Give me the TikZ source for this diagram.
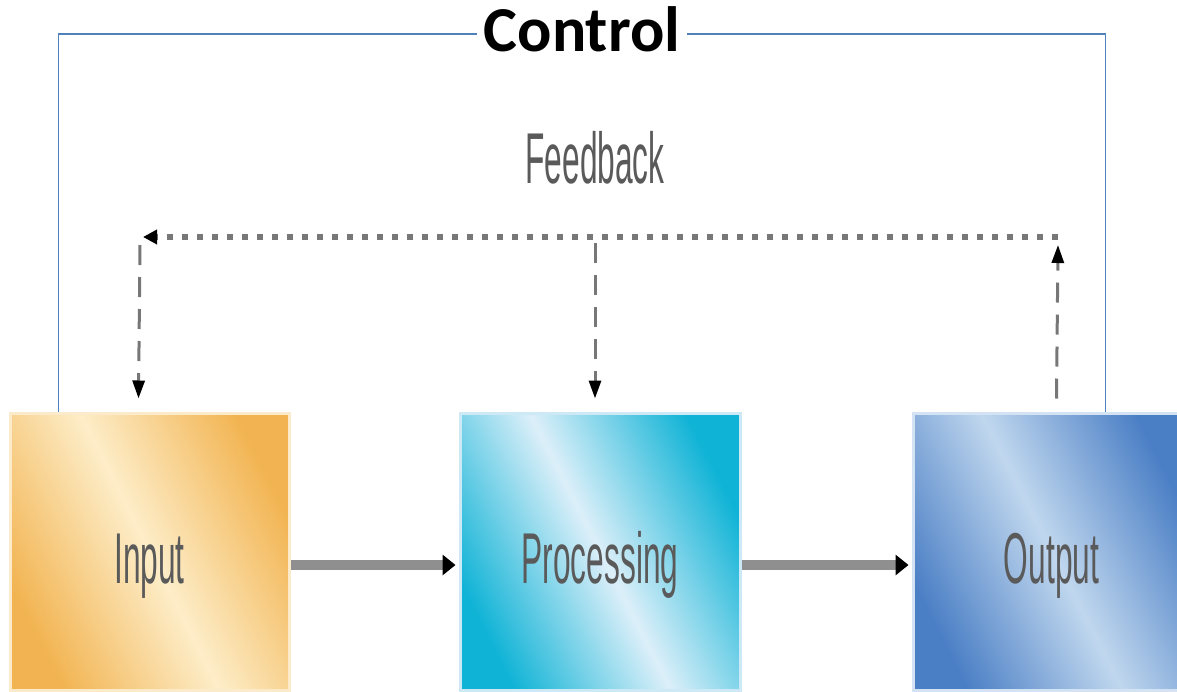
\documentclass[tikz,border=0pt]{standalone}
\usepackage{fontspec}
\usepackage{graphicx}
\setmainfont{Liberation Sans}
\newfontfamily\ctrlfont{Carlito}
\usetikzlibrary{arrows.meta}

\definecolor{inDark}{HTML}{F2B452}
\definecolor{inLight}{HTML}{FDEDC8}
\definecolor{inEdge}{HTML}{FCEBCB}
\definecolor{prDark}{HTML}{0FB3D6}
\definecolor{prLight}{HTML}{DCEFF9}
\definecolor{prEdge}{HTML}{CDE9F6}
\definecolor{ouDark}{HTML}{4A7EC5}
\definecolor{ouLight}{HTML}{C0D7EE}
\definecolor{ouEdge}{HTML}{D3E3F3}
\definecolor{ctrlBlue}{HTML}{4F81BD}
\definecolor{labelGray}{HTML}{5A5A5A}
\definecolor{flowGray}{HTML}{8F8F8F}
\definecolor{fbGray}{HTML}{777777}

\pgfdeclarehorizontalshading{inshade}{100bp}{color(0bp)=(inDark); color(25bp)=(inDark); color(50bp)=(inLight); color(75bp)=(inDark); color(100bp)=(inDark)}
\pgfdeclarehorizontalshading{prshade}{100bp}{color(0bp)=(prDark); color(25bp)=(prDark); color(50bp)=(prLight); color(75bp)=(prDark); color(100bp)=(prDark)}
\pgfdeclarehorizontalshading{oushade}{100bp}{color(0bp)=(ouDark); color(25bp)=(ouDark); color(50bp)=(ouLight); color(75bp)=(ouDark); color(100bp)=(ouDark)}

\newcommand{\narrowtext}[1]{\scalebox{0.44}[1]{\fontsize{72}{72}\selectfont #1}}

\begin{document}
\begin{tikzpicture}[x=1pt,y=-1pt,
  box/.style={line width=3pt, minimum height=277pt, inner sep=0pt,
    shading angle=27, text=labelGray, text height=64pt, text depth=0pt},
  flow/.style={draw=flowGray, line width=10pt,
    -{Triangle[length=13pt,width=20pt,color=black,fill=black]}, shorten >=3pt},
  fbdots/.style={draw=fbGray, line width=6pt, dash pattern=on 6pt off 9pt,
    -{Triangle[length=14pt,width=14pt,color=black,fill=black]}},
  fbdash/.style={draw=fbGray, line width=3pt, dash pattern=on 20pt off 12pt,
    -{Triangle[length=18pt,width=12pt,color=black,fill=black]}},
  ctrlline/.style={draw=ctrlBlue, line width=1.6pt},
  fblabel/.style={text=labelGray, inner sep=0pt},
  ctrllabel/.style={font=\ctrlfont\bfseries\fontsize{64}{64}\selectfont,
    text=black, inner xsep=7pt, inner ysep=0pt, text height=45pt, text depth=11pt}
]
\clip (0,0) rectangle (1177,691);
\useasboundingbox (0,0) rectangle (1177,691);

% boxes
\node[box, shading=inshade, draw=inEdge, minimum width=279pt] (inp) at (149.5,551.5) {\narrowtext{Input}};
\node[box, shading=prshade, draw=prEdge, minimum width=280pt] (proc) at (600,551.5) {\narrowtext{Processing}};
\node[box, shading=oushade, draw=ouEdge, minimum width=277pt] (out) at (1051.5,551.5) {\narrowtext{Output}};

% flow arrows
\draw[flow] ([yshift=-13.5pt]inp.east) -- ([yshift=-13.5pt]proc.west);
\draw[flow] ([yshift=-13.5pt]proc.east) -- ([yshift=-13.5pt]out.west);

% control
\node[ctrllabel] (ctrl) at (582,34) {Control};
\draw[ctrlline] ([xshift=50pt]inp.north west) |- (ctrl.west);
\draw[ctrlline] (ctrl.east) -| ([xshift=194pt]out.north west);

% feedback
\node[fblabel, anchor=base] (fb) at (595,183) {\narrowtext{Feedback}};
\coordinate (fbL) at (143,237);
\coordinate (fbM) at (595,237);
\coordinate (fbR) at (1058,237);
\draw[fbdots] (fbR) -- (fbL);
\draw[fbdash] ([yshift=-8pt,xshift=-3pt]fbL) -- ([xshift=130pt,yshift=13pt]inp.north west);
\draw[fbdash] ([yshift=-6pt]fbM) -- ([xshift=-5pt,yshift=13pt]proc.north);
\draw[fbdash] ([xshift=145pt,yshift=13pt]out.north west) -- ([yshift=-8pt]fbR);
\end{tikzpicture}
\end{document}
